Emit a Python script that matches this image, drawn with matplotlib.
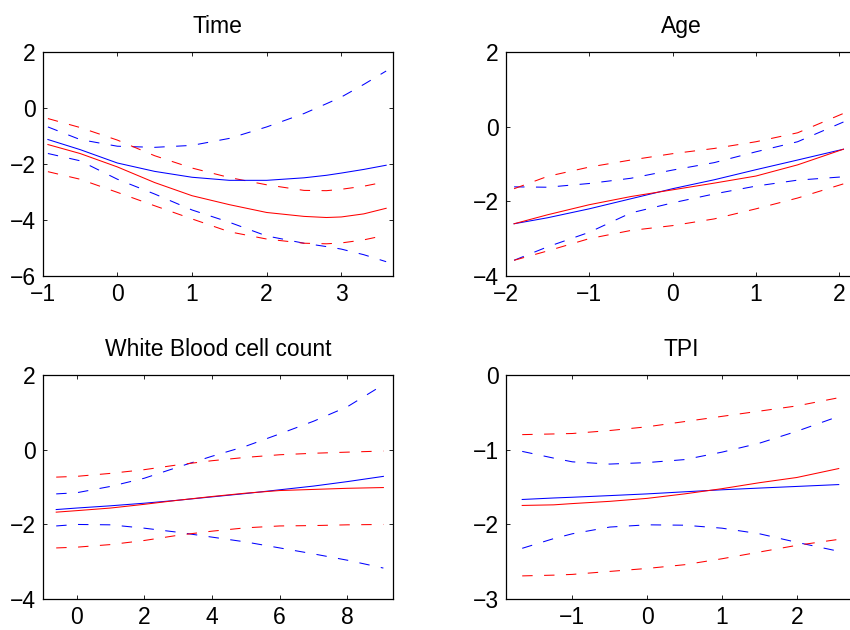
import matplotlib

matplotlib.use("Agg")
import matplotlib.pyplot as plt

plt.rcParams["font.family"] = ["Liberation Sans", "DejaVu Sans"]
plt.rcParams["axes.unicode_minus"] = True

# Time
time_x = [-0.93, -0.5, 0.0, 0.5, 1.0, 1.5, 2.0, 2.5, 2.8, 3.0, 3.3, 3.6]
time_blue = [-1.12, -1.48, -1.96, -2.26, -2.47, -2.58, -2.58, -2.49, -2.40, -2.32, -2.19, -2.04]
time_blue_hi = [-0.67, -1.12, -1.36, -1.40, -1.33, -1.08, -0.67, -0.19, 0.16, 0.40, 0.85, 1.33]
time_blue_lo = [-1.62, -1.88, -2.54, -3.07, -3.64, -4.08, -4.57, -4.83, -4.95, -5.04, -5.24, -5.49]
time_red = [-1.30, -1.62, -2.10, -2.66, -3.13, -3.45, -3.73, -3.87, -3.91, -3.89, -3.78, -3.58]
time_red_hi = [-0.37, -0.69, -1.14, -1.70, -2.14, -2.48, -2.74, -2.94, -2.95, -2.90, -2.79, -2.63]
time_red_lo = [-2.27, -2.54, -3.01, -3.49, -3.96, -4.42, -4.68, -4.83, -4.85, -4.82, -4.71, -4.54]

# Age
age_x = [-1.9, -1.5, -1.0, -0.5, 0.0, 0.5, 1.0, 1.5, 2.05]
age_blue = [-2.60, -2.44, -2.20, -1.93, -1.66, -1.42, -1.15, -0.89, -0.60]
age_blue_hi = [-1.61, -1.62, -1.52, -1.38, -1.16, -0.96, -0.67, -0.40, 0.13]
age_blue_lo = [-3.58, -3.22, -2.83, -2.31, -2.04, -1.80, -1.59, -1.43, -1.34]
age_red = [-2.60, -2.36, -2.09, -1.87, -1.69, -1.51, -1.32, -1.02, -0.60]
age_red_hi = [-1.66, -1.33, -1.08, -0.89, -0.72, -0.58, -0.40, -0.16, 0.36]
age_red_lo = [-3.58, -3.33, -3.00, -2.78, -2.65, -2.47, -2.20, -1.91, -1.53]

# White Blood cell count
wbc_x = [-0.6, 0.0, 1.0, 2.0, 3.0, 4.0, 5.0, 6.0, 7.0, 8.0, 9.06]
wbc_blue = [-1.60, -1.56, -1.50, -1.43, -1.35, -1.26, -1.17, -1.07, -0.97, -0.85, -0.71]
wbc_blue_hi = [-1.18, -1.15, -0.98, -0.76, -0.46, -0.17, 0.10, 0.43, 0.77, 1.16, 1.75]
wbc_blue_lo = [-2.04, -2.00, -2.01, -2.10, -2.21, -2.34, -2.47, -2.63, -2.79, -2.96, -3.17]
wbc_red = [-1.67, -1.63, -1.56, -1.46, -1.35, -1.25, -1.16, -1.09, -1.06, -1.03, -1.01]
wbc_red_hi = [-0.73, -0.71, -0.63, -0.53, -0.40, -0.29, -0.20, -0.13, -0.09, -0.06, -0.03]
wbc_red_lo = [-2.63, -2.61, -2.54, -2.43, -2.29, -2.18, -2.09, -2.04, -2.03, -2.01, -2.00]

# TPI
tpi_x = [-1.67, -1.25, -1.0, -0.5, 0.0, 0.5, 1.0, 1.5, 2.0, 2.56]
tpi_blue = [-1.665, -1.645, -1.635, -1.613, -1.59, -1.562, -1.535, -1.512, -1.49, -1.465]
tpi_blue_hi = [-1.02, -1.11, -1.16, -1.19, -1.17, -1.13, -1.03, -0.91, -0.75, -0.55]
tpi_blue_lo = [-2.32, -2.19, -2.125, -2.035, -2.005, -2.01, -2.05, -2.125, -2.24, -2.36]
tpi_red = [-1.745, -1.737, -1.72, -1.69, -1.65, -1.59, -1.52, -1.44, -1.37, -1.25]
tpi_red_hi = [-0.795, -0.786, -0.78, -0.74, -0.69, -0.62, -0.55, -0.48, -0.41, -0.30]
tpi_red_lo = [-2.69, -2.68, -2.67, -2.63, -2.59, -2.54, -2.46, -2.37, -2.28, -2.20]

panels = [
    ("Time", time_x, time_blue, time_blue_hi, time_blue_lo, time_red, time_red_hi, time_red_lo,
     [0.0502, 0.562, 0.412, 0.355], (-1, 3.69), (-6, 2), [-1, 0, 1, 2, 3], [-6, -4, -2, 0, 2]),
    ("Age", age_x, age_blue, age_blue_hi, age_blue_lo, age_red, age_red_hi, age_red_lo,
     [0.595, 0.562, 0.412, 0.355], (-2, 2.2), (-4, 2), [-2, -1, 0, 1, 2], [-4, -2, 0, 2]),
    ("White Blood cell count", wbc_x, wbc_blue, wbc_blue_hi, wbc_blue_lo, wbc_red, wbc_red_hi, wbc_red_lo,
     [0.0502, 0.0492, 0.412, 0.355], (-1, 9.34), (-4, 2), [0, 2, 4, 6, 8], [-4, -2, 0, 2]),
    ("TPI", tpi_x, tpi_blue, tpi_blue_hi, tpi_blue_lo, tpi_red, tpi_red_hi, tpi_red_lo,
     [0.595, 0.0492, 0.412, 0.355], (-1.89, 2.79), (-3, 0), [-1, 0, 1, 2], [-3, -2, -1, 0]),
]

dash = (0, (10, 11))
fig = plt.figure(figsize=(8.5, 6.3), dpi=100)

for title, x, b, bhi, blo, r, rhi, rlo, rect, xlim, ylim, xt, yt in panels:
    ax = fig.add_axes(rect)
    ax.plot(x, bhi, color="blue", lw=0.75, ls=dash)
    ax.plot(x, blo, color="blue", lw=0.75, ls=dash)
    ax.plot(x, rhi, color="red", lw=0.75, ls=dash)
    ax.plot(x, rlo, color="red", lw=0.75, ls=dash)
    ax.plot(x, b, color="blue", lw=0.75)
    ax.plot(x, r, color="red", lw=0.75)
    ax.set_xlim(*xlim)
    ax.set_ylim(*ylim)
    ax.set_xticks(xt)
    ax.set_yticks(yt)
    ax.tick_params(direction="in", length=3, width=0.6, top=True, right=True,
                   labelsize=16.5, pad=5)
    for s in ax.spines.values():
        s.set_linewidth(0.9)
    ax.set_title(title, fontsize=16.5, pad=14)

fig.savefig("out.png", dpi=100)
